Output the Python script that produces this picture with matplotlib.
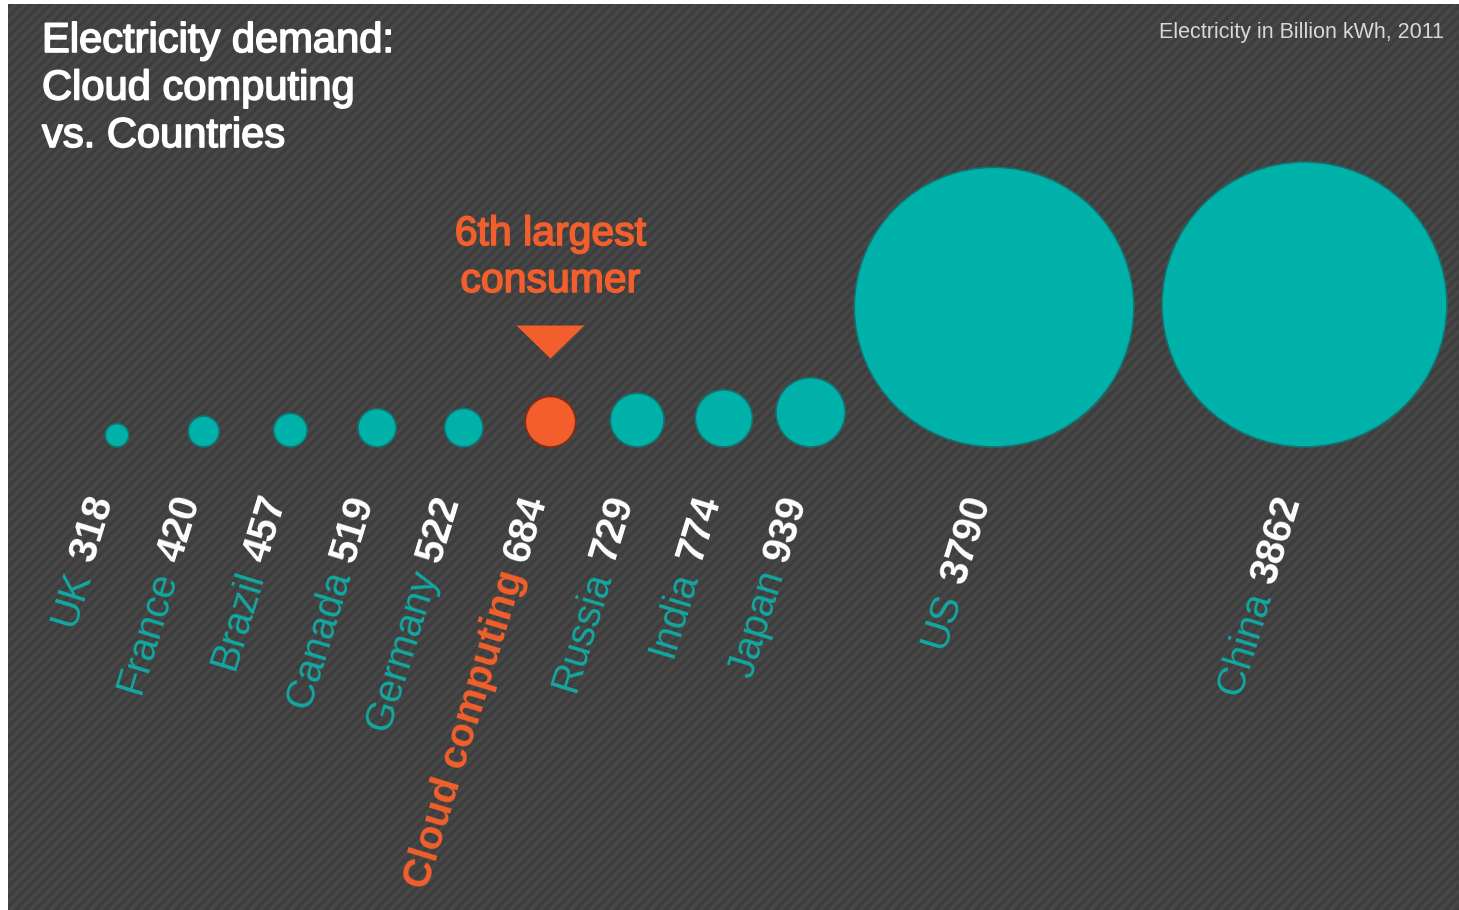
"""
Electricity demand: cloud computing vs. countries (billion kWh, 2011).
Circle radius is proportional to demand, circles sit on a common baseline.
"""
import numpy as np
import matplotlib
matplotlib.use("Agg")
import matplotlib.pyplot as plt
import matplotlib.patheffects as pe
from matplotlib.collections import LineCollection
from matplotlib.patches import Circle, Polygon, Rectangle

# ---- data ----
countries = ["UK", "France", "Brazil", "Canada", "Germany", "Cloud computing",
             "Russia", "India", "Japan", "US", "China"]
demand = [318, 420, 457, 519, 522, 684, 729, 774, 939, 3790, 3862]
highlight = "Cloud computing"

title_lines = ["Electricity demand:", "Cloud computing", "vs. Countries"]
unit_note = "Electricity in Billion kWh, 2011"
callout_lines = ["6th largest", "consumer"]

# ---- style ----
W, H, DPI = 1459, 910, 100
BG = "#3d3d3d"
STRIPE = "#474747"
TEAL = "#00b1aa"
TEAL_EDGE = "#17706c"
TEAL_TXT = "#12a8a1"
ORANGE = "#f25f2c"
ORANGE_EDGE = "#8a2a14"
FONT = ["Liberation Sans", "DejaVu Sans"]

plt.rcParams["font.family"] = FONT

fig = plt.figure(figsize=(W / DPI, H / DPI), dpi=DPI, facecolor="white")
ax = fig.add_axes([0, 0, 1, 1])
ax.set_xlim(0, W)
ax.set_ylim(H, 0)   # 1 data unit == 1 pixel, y down
ax.axis("off")

# dark striped panel
panel = Rectangle((8, 4), W - 8, H - 4, facecolor=BG, edgecolor="none", zorder=0)
ax.add_patch(panel)
offs = np.arange(-H, W + 20, 10)
stripes = LineCollection([[(c, H), (c + H, 0)] for c in offs],
                         colors=STRIPE, linewidths=2.6, zorder=0.5)
ax.add_collection(stripes)
stripes.set_clip_path(panel)

# ---- circles ----
scale = 0.0369        # radius px per billion kWh
base_y = 447
x0, step = 117, 86.7  # evenly spaced small circles
big_gap = 9           # gap before the first big circle, grows after

radii = [v * scale for v in demand]
centers = []
for i, r in enumerate(radii):
    if r < 60:
        cx = x0 + i * step
    else:
        cx = centers[-1] + radii[i - 1] + big_gap + r
        big_gap = 28
    centers.append(cx)

for name, cx, r in zip(countries, centers, radii):
    hot = name == highlight
    ax.add_patch(Circle((cx, base_y - r), r,
                        facecolor=ORANGE if hot else TEAL,
                        edgecolor=ORANGE_EDGE if hot else TEAL_EDGE,
                        linewidth=1.2, zorder=3))

# ---- rotated labels: "<name> <value>" ----
renderer = fig.canvas.get_renderer()
ang = 73
d = np.array([np.cos(np.deg2rad(ang)), -np.sin(np.deg2rad(ang))])
fs = 29


def text_width(s, **kw):
    t = ax.text(0, 0, s, fontsize=fs, **kw)
    w = t.get_window_extent(renderer).width
    t.remove()
    return w


space = text_width("a b") - text_width("ab")
for name, val, cx in zip(countries, demand, centers):
    hot = name == highlight
    anchor = np.array([cx - 4, 500])
    num = str(val)
    ax.text(*anchor, num, fontsize=fs, weight="bold", color="white",
            rotation=ang, rotation_mode="anchor", ha="right", va="baseline", zorder=4)
    w = text_width(num, weight="bold")
    p = anchor - (w + space) * d
    ax.text(*p, name, fontsize=fs, weight="bold" if hot else "normal",
            color=ORANGE if hot else TEAL_TXT,
            rotation=ang, rotation_mode="anchor", ha="right", va="baseline", zorder=4)

# ---- callout above the highlighted circle ----
hi = countries.index(highlight)
hx, htop = centers[hi], base_y - 2 * radii[hi]
tip = htop - 38
ax.add_patch(Polygon([(hx - 34, tip - 33), (hx + 34, tip - 33), (hx, tip)],
                     closed=True, facecolor=ORANGE, edgecolor="none", zorder=3))
thick = [pe.withStroke(linewidth=1.2, foreground=ORANGE)]
for k, line in enumerate(callout_lines):
    ax.text(hx, 245 + 47 * k, line, fontsize=29.5, color=ORANGE, ha="center",
            va="baseline", path_effects=thick, zorder=4)

# ---- titles ----
thick_w = [pe.withStroke(linewidth=1.2, foreground="white")]
for k, line in enumerate(title_lines):
    ax.text(42, 52 + 47.5 * k, line, fontsize=30, color="white", ha="left",
            va="baseline", path_effects=thick_w, zorder=4)
ax.text(1444, 38, unit_note, fontsize=15.5, color="#d9d9d9", ha="right",
        va="baseline", zorder=4)

fig.savefig("out.png", dpi=DPI, facecolor="white")
